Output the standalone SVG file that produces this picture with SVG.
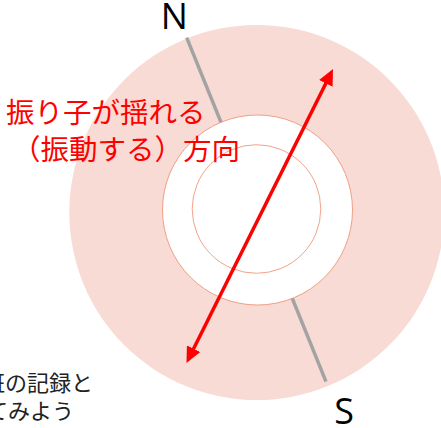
<svg xmlns="http://www.w3.org/2000/svg" width="441" height="428" viewBox="0 0 441 428">
  <style>
    .ring { fill: none; stroke: #ee8a6c; stroke-width: 0.8; }
    .axis { stroke: #a3a3a3; stroke-width: 3.5; fill: none; }
    .red { fill: #ff0000; font-family: "Noto Sans CJK JP", "Noto Sans", sans-serif; font-size: 28.5px; }
    .note { fill: #222222; font-family: "Noto Sans CJK JP", "Noto Sans", sans-serif; font-size: 22px; }
    .dir { fill: #000000; font-family: "Open Sans", "Liberation Sans", sans-serif; font-size: 36px; text-anchor: middle; }
    .arrow { stroke: #ff0000; stroke-width: 3.5; fill: none; }
  </style>
  <defs>
    <marker id="head" markerUnits="userSpaceOnUse" markerWidth="16" markerHeight="15" refX="4" refY="7.5" orient="auto-start-reverse" viewBox="0 0 16 15">
      <path d="M0,0 L16,7.5 L0,15 z" fill="#ff0000"/>
    </marker>
  </defs>
  <rect width="441" height="428" fill="#ffffff"/>
  <g id="outer-disc">
    <circle cx="256.8" cy="212.5" r="187.5" fill="#f8dbd4"/>
  </g>
  <g id="ns-axis">
    <line class="axis" x1="186.7" y1="37.7" x2="326" y2="381.7"/>
  </g>
  <g id="inner-rings">
    <circle cx="257.5" cy="210" r="95" fill="#ffffff" stroke="#ee8a6c" stroke-width="0.8"/>
    <circle class="ring" cx="256.5" cy="209" r="64.3"/>
  </g>
  <g id="label-N">
    <text class="dir" x="174.3" y="29.3">N</text>
  </g>
  <g id="label-S">
    <text class="dir" x="344" y="424">S</text>
  </g>
  <g id="label-direction">
    <text class="red" x="6" y="123">振り子が揺れる</text>
    <text class="red" x="12" y="159.5">（振動する）方向</text>
  </g>
  <g id="note">
    <text class="note" x="-17" y="391">班の記録と</text>
    <text class="note" x="-14" y="419">てみよう</text>
  </g>
  <g id="connectors">
    <line class="arrow" x1="191.85" y1="352.26" x2="327.65" y2="79.74" marker-start="url(#head)" marker-end="url(#head)"/>
  </g>
</svg>
